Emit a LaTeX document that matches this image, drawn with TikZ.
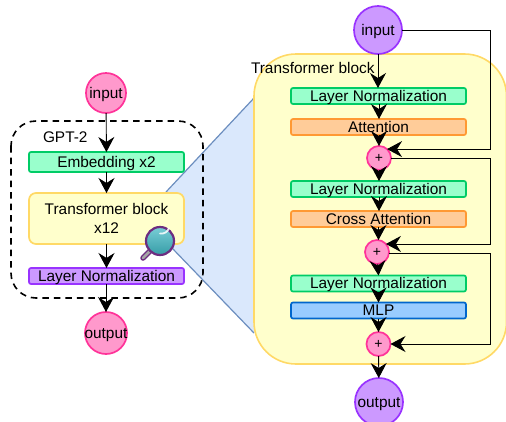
\documentclass[tikz,border=0pt]{standalone}
\usepackage{fontspec}
\setmainfont{Liberation Sans}
\usetikzlibrary{arrows.meta,calc}
\definecolor{gfill}{HTML}{99FFCC}\definecolor{gline}{HTML}{00CC66}
\definecolor{ofill}{HTML}{FFCC99}\definecolor{oline}{HTML}{FF9933}
\definecolor{bfill}{HTML}{99CCFF}\definecolor{bline}{HTML}{0066CC}
\definecolor{pfill}{HTML}{CC99FF}\definecolor{pline}{HTML}{9933FF}
\definecolor{rfill}{HTML}{FF99CC}\definecolor{rline}{HTML}{FF3399}
\definecolor{yfill}{HTML}{FFFFCC}\definecolor{yline}{HTML}{FFD966}
\definecolor{tfill}{HTML}{DAE8FC}\definecolor{tline}{HTML}{6C8EBF}
\definecolor{mline}{HTML}{6D2D80}\definecolor{mfill}{HTML}{3FB8C4}
\newcommand{\ovl}[1]{\makebox[0pt][c]{#1}}
\tikzset{
  x=1pt,y=-1pt,
  every node/.style={font=\fontsize{15.4}{19}\selectfont,inner sep=0pt,outer sep=0pt},
  bar/.style={draw,rectangle,rounded corners=2pt,line width=1.7pt,text height=10.5pt,text depth=0pt},
  lbar/.style={bar,minimum width=155pt},
  rbar/.style={bar,minimum width=175pt,minimum height=16pt},
  green/.style={draw=gline,fill=gfill},
  orange/.style={draw=oline,fill=ofill},
  blue/.style={draw=bline,fill=bfill},
  purple/.style={draw=pline,fill=pfill},
  ball/.style={draw,circle,line width=1.7pt,text height=10.5pt,text depth=0pt},
  pink/.style={ball,draw=rline,fill=rfill},
  violet/.style={ball,draw=pline,fill=pfill},
  sum/.style={pink,minimum size=24pt,font=\fontsize{14}{14}\selectfont,text height=9.5pt,text depth=0pt},
  conn/.style={line width=0.9pt,-{Stealth[length=15pt,width=16pt,inset=5pt]}},
}
\begin{document}
\begin{tikzpicture}
\useasboundingbox (0,0) rectangle (506,421);
% zoom wedge
\fill[tfill] (166,192) -- (254,98) -- (254,333) -- (172,248) -- cycle;
\draw[tline,line width=1.2pt] (166,192) -- (254,98);
\draw[tline,line width=1.2pt] (172,248) -- (254,333);
% outer shapes
\draw[line width=1.6pt,dash pattern=on 6.5pt off 5pt,rounded corners=25pt] (11,121) rectangle (203,298);
\draw[yline,fill=yfill,line width=1.6pt,rounded corners=42pt] (254,54) rectangle (506.5,364);
% left column
\node[pink,minimum size=40pt] (linput) at (106,93) {\ovl{input}};
\node[lbar,green,minimum height=20pt] (embed) at (106.5,162) {Embedding x2};
\node[draw=yline,fill=yfill,rectangle,rounded corners=7pt,line width=1.7pt,minimum width=155pt,minimum height=51pt,align=center] (tblock) at (106.5,218.5) {Transformer block\\x12};
\node[lbar,purple,minimum height=16pt] (lnorm) at (106.5,276) {Layer Normalization};
\node[pink,minimum size=42pt] (loutput) at (106,333) {\ovl{output}};
\node[anchor=base west] (gpt) at (43,142) {GPT-2};
% right column
\node[violet,minimum size=48pt] (rinput) at (378,30) {\ovl{input}};
\node[anchor=base west] (tlabel) at (251,73) {Transformer block};
\node[rbar,green] (ln1) at (378.5,96) {Layer Normalization};
\node[rbar,orange] (att) at (378.5,127) {Attention};
\node[sum] (p1) at (379,158) {+};
\node[rbar,green] (ln2) at (378.5,189) {Layer Normalization};
\node[rbar,orange] (cross) at (378.5,219) {Cross Attention};
\node[sum] (p2) at (377,252) {+};
\node[rbar,green] (ln3) at (378.5,283.5) {Layer Normalization};
\node[rbar,blue] (mlp) at (378.5,310.5) {MLP};
\node[sum] (p3) at (378.5,344) {+};
\node[violet,minimum size=48pt] (routput) at (379,402) {\ovl{output}};
% left connectors
\draw[conn] (linput) -- (embed);
\draw[conn] (embed) -- (tblock);
\draw[conn] (tblock) -- (lnorm);
\draw[conn] (lnorm.south -| loutput) -- (loutput);
% right connectors
\draw[conn] (rinput) -- (rinput |- ln1.north);
\draw[conn] (ln1.south -| p1) -- (att.north -| p1);
\draw[conn] (att.south -| p1) -- (p1);
\draw[conn] (p1) -- (ln2.north -| p1);
\draw[conn] (ln2.south -| p1) -- (cross.north -| p1);
\draw[conn] (cross.south -| p3) -- (p2.north -| p3);
\draw[conn] (p2) -- (ln3.north -| p3);
\draw[conn] (ln3.south -| p3) -- (mlp.north -| p3);
\draw[conn] (mlp.south -| p3) -- (p3);
\draw[conn] (p3) -- (routput);
% skip connectors
\coordinate (e0) at (490,30);
\coordinate (e1) at (490,158);
\coordinate (e2) at (490,253);
\draw[conn] (rinput.east) -- (e0) |- (p1.48);
\draw[conn] (p1.east) -- (e1) |- (p2.42);
\draw[conn] (p2.east |- e2) -- (e2) |- (p3.east);
% magnifier
\draw[mline,line width=5.5pt,line cap=round] (150,251) -- (143,258);
\draw[gray!70,line width=2.5pt,line cap=round] (150,251) -- (143,258);
\shade[top color=mfill!70!white,bottom color=mfill!85!black] (160,241) circle (14);
\draw[mline,line width=2.2pt] (160,241) circle (14);
\draw[white,line width=1.8pt,line cap=round,opacity=.85] (160,233.5) arc[start angle=100,end angle=20,radius=8];
\end{tikzpicture}
\end{document}
